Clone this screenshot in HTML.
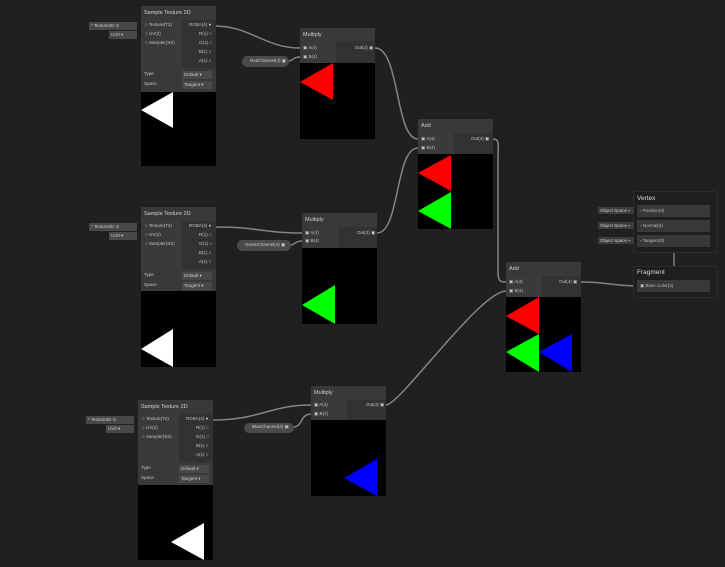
<!DOCTYPE html>
<html><head><meta charset="utf-8"><style>
*{margin:0;padding:0;box-sizing:border-box}
body{width:725px;height:567px;background:#202020;position:relative;overflow:hidden;font-family:"Liberation Sans",sans-serif;color:#c8c8c8;font-size:5px}
.a{position:absolute}
.hd{background:#393939;font-size:5.5px;padding:4px 0 0 3px;color:#d0d0d0}
.lc{background:#3a3a3a}
.rc{background:#323232}
.pv{background:#000}
.t{position:absolute;white-space:nowrap;font-size:4.5px;color:#c4c4c4}
.pill{position:absolute;background:#4a4a4a;border-radius:6px;font-size:4.5px;color:#ccc;padding:2px 0 0 8px;white-space:nowrap}
.dd{position:absolute;background:#484848;font-size:4.5px;color:#ccc;padding:1px 2px;white-space:nowrap}
.box{position:absolute;border:1px solid #2c2c2c;background:#1e1e1e;border-radius:2px}
.row{position:absolute;background:#383838}
</style></head><body>
<svg class="a" style="left:0;top:0" width="725" height="567">
<g fill="none" stroke="#8a7f8c" stroke-width="1.5">
<path d="M215 26 C250 26,265 48,300 48"/>
<path d="M215 227 C260 227,262 233,302 233"/>
<path d="M213 420 C260 420,270 405,311 405"/>
<path d="M288 61 C294 61,292 57,300 57"/>
<path d="M290 245 C296 245,294 241,302 241"/>
<path d="M293 427 C303 427,300 414,311 414"/>
<path d="M375 48 C400 48,395 139,418 139"/>
<path d="M377 233 C400 233,395 148,418 148"/>
<path d="M493 139 C500 139,498 145,498 160 L498 270 C498 282,500 282,506 282"/>
<path d="M386 405 C400 405,480 291,506 291"/>
<path d="M581 282 C610 282,610 286,640 286"/>
</g>
<path d="M674 253 L674 266" stroke="#aaa" stroke-width="1"/>
</svg>

<!-- Sample Texture 1 -->
<div class="a hd" style="left:141px;top:6px;width:75px;height:14px">Sample Texture 2D</div>
<div class="a lc" style="left:141px;top:20px;width:41px;height:48px"></div>
<div class="a rc" style="left:182px;top:20px;width:34px;height:48px"></div>
<div class="a hd" style="left:141px;top:68px;width:75px;height:24px;padding:0"></div>
<div class="t" style="left:144px;top:71px">Type</div><div class="dd" style="left:182px;top:71px;width:30px">Default ▾</div>
<div class="t" style="left:144px;top:81px">Space</div><div class="dd" style="left:182px;top:81px;width:30px">Tangent ▾</div>
<div class="a pv" style="left:141px;top:92px;width:75px;height:74px"></div>
<div class="t" style="left:145px;top:22px">○ Texture(T2)</div>
<div class="t" style="left:145px;top:31px">○ UV(2)</div>
<div class="t" style="left:145px;top:40px">○ Sampler(SS)</div>
<div class="t" style="left:189px;top:22px">RGBA(4) ●</div>
<div class="t" style="left:199px;top:31px">R(1) ○</div>
<div class="t" style="left:199px;top:40px">G(1) ○</div>
<div class="t" style="left:199px;top:49px">B(1) ○</div>
<div class="t" style="left:199px;top:58px">A(1) ○</div>
<div class="dd" style="left:89px;top:22px;width:48px">* Texture2D ⊙</div>
<div class="dd" style="left:109px;top:31px;width:28px">UV0 ▾</div>

<!-- Sample Texture 2 -->
<div class="a hd" style="left:141px;top:207px;width:75px;height:14px">Sample Texture 2D</div>
<div class="a lc" style="left:141px;top:221px;width:41px;height:48px"></div>
<div class="a rc" style="left:182px;top:221px;width:34px;height:48px"></div>
<div class="a hd" style="left:141px;top:269px;width:75px;height:22px;padding:0"></div>
<div class="t" style="left:144px;top:272px">Type</div><div class="dd" style="left:182px;top:272px;width:30px">Default ▾</div>
<div class="t" style="left:144px;top:282px">Space</div><div class="dd" style="left:182px;top:282px;width:30px">Tangent ▾</div>
<div class="a pv" style="left:141px;top:291px;width:75px;height:76px"></div>
<div class="t" style="left:145px;top:223px">○ Texture(T2)</div>
<div class="t" style="left:145px;top:232px">○ UV(2)</div>
<div class="t" style="left:145px;top:241px">○ Sampler(SS)</div>
<div class="t" style="left:189px;top:223px">RGBA(4) ●</div>
<div class="t" style="left:199px;top:232px">R(1) ○</div>
<div class="t" style="left:199px;top:241px">G(1) ○</div>
<div class="t" style="left:199px;top:250px">B(1) ○</div>
<div class="t" style="left:199px;top:259px">A(1) ○</div>
<div class="dd" style="left:89px;top:223px;width:48px">* Texture2D ⊙</div>
<div class="dd" style="left:109px;top:232px;width:28px">UV0 ▾</div>

<!-- Sample Texture 3 -->
<div class="a hd" style="left:138px;top:400px;width:75px;height:14px">Sample Texture 2D</div>
<div class="a lc" style="left:138px;top:414px;width:41px;height:48px"></div>
<div class="a rc" style="left:179px;top:414px;width:34px;height:48px"></div>
<div class="a hd" style="left:138px;top:462px;width:75px;height:23px;padding:0"></div>
<div class="t" style="left:141px;top:465px">Type</div><div class="dd" style="left:179px;top:465px;width:30px">Default ▾</div>
<div class="t" style="left:141px;top:475px">Space</div><div class="dd" style="left:179px;top:475px;width:30px">Tangent ▾</div>
<div class="a pv" style="left:138px;top:485px;width:75px;height:75px"></div>
<div class="t" style="left:142px;top:416px">○ Texture(T2)</div>
<div class="t" style="left:142px;top:425px">○ UV(2)</div>
<div class="t" style="left:142px;top:434px">○ Sampler(SS)</div>
<div class="t" style="left:186px;top:416px">RGBA(4) ●</div>
<div class="t" style="left:196px;top:425px">R(1) ○</div>
<div class="t" style="left:196px;top:434px">G(1) ○</div>
<div class="t" style="left:196px;top:443px">B(1) ○</div>
<div class="t" style="left:196px;top:452px">A(1) ○</div>
<div class="dd" style="left:86px;top:416px;width:48px">* Texture2D ⊙</div>
<div class="dd" style="left:106px;top:425px;width:28px">UV0 ▾</div>

<!-- Multiply 1 -->
<div class="a hd" style="left:300px;top:28px;width:75px;height:13px">Multiply</div>
<div class="a lc" style="left:300px;top:41px;width:36px;height:22px"></div>
<div class="a rc" style="left:336px;top:41px;width:39px;height:22px"></div>
<div class="t" style="left:303px;top:45px">▣ A(4)</div><div class="t" style="left:303px;top:54px">▣ B(4)</div>
<div class="t" style="left:355px;top:45px">Out(4) ▣</div>
<div class="a pv" style="left:300px;top:63px;width:75px;height:76px"></div>
<div class="pill" style="left:242px;top:56px;width:47px;height:11px">RedChannel(4) ▣</div>

<!-- Multiply 2 -->
<div class="a hd" style="left:302px;top:213px;width:75px;height:14px">Multiply</div>
<div class="a lc" style="left:302px;top:227px;width:36px;height:21px"></div>
<div class="a rc" style="left:338px;top:227px;width:39px;height:21px"></div>
<div class="t" style="left:305px;top:230px">▣ A(4)</div><div class="t" style="left:305px;top:238px">▣ B(4)</div>
<div class="t" style="left:357px;top:230px">Out(4) ▣</div>
<div class="a pv" style="left:302px;top:248px;width:75px;height:76px"></div>
<div class="pill" style="left:237px;top:240px;width:54px;height:11px">GreenChannel(4) ▣</div>

<!-- Multiply 3 -->
<div class="a hd" style="left:311px;top:386px;width:75px;height:14px">Multiply</div>
<div class="a lc" style="left:311px;top:400px;width:36px;height:20px"></div>
<div class="a rc" style="left:347px;top:400px;width:39px;height:20px"></div>
<div class="t" style="left:314px;top:402px">▣ A(4)</div><div class="t" style="left:314px;top:411px">▣ B(4)</div>
<div class="t" style="left:366px;top:402px">Out(4) ▣</div>
<div class="a pv" style="left:311px;top:420px;width:75px;height:76px"></div>
<div class="pill" style="left:244px;top:423px;width:50px;height:10px;padding-top:1px">BlueChannel(4) ▣</div>

<!-- Add 1 -->
<div class="a hd" style="left:418px;top:119px;width:75px;height:14px">Add</div>
<div class="a lc" style="left:418px;top:133px;width:36px;height:21px"></div>
<div class="a rc" style="left:454px;top:133px;width:39px;height:21px"></div>
<div class="t" style="left:421px;top:136px">▣ A(4)</div><div class="t" style="left:421px;top:145px">▣ B(4)</div>
<div class="t" style="left:471px;top:136px">Out(4) ▣</div>
<div class="a pv" style="left:418px;top:154px;width:75px;height:75px"></div>

<!-- Add 2 -->
<div class="a hd" style="left:506px;top:262px;width:75px;height:14px">Add</div>
<div class="a lc" style="left:506px;top:276px;width:36px;height:21px"></div>
<div class="a rc" style="left:542px;top:276px;width:39px;height:21px"></div>
<div class="t" style="left:509px;top:279px">▣ A(4)</div><div class="t" style="left:509px;top:288px">▣ B(4)</div>
<div class="t" style="left:559px;top:279px">Out(4) ▣</div>
<div class="a pv" style="left:506px;top:297px;width:75px;height:75px"></div>

<!-- Vertex / Fragment -->
<div class="box" style="left:633px;top:191px;width:84px;height:62px"></div>
<div class="a" style="left:637px;top:195px;font-size:6.5px;color:#d8d8d8">Vertex</div>
<div class="row" style="left:637px;top:205px;width:73px;height:12px"></div>
<div class="row" style="left:637px;top:220px;width:73px;height:12px"></div>
<div class="row" style="left:637px;top:235px;width:73px;height:12px"></div>
<div class="t" style="left:640px;top:208px;color:#bbb">▫ Position(3)</div>
<div class="t" style="left:640px;top:223px;color:#bbb">▫ Normal(3)</div>
<div class="t" style="left:640px;top:238px;color:#bbb">▫ Tangent(3)</div>
<div class="dd" style="left:598px;top:207px;width:36px;background:#3c3c3c">Object Space ▪</div>
<div class="dd" style="left:598px;top:222px;width:36px;background:#3c3c3c">Object Space ▪</div>
<div class="dd" style="left:598px;top:237px;width:36px;background:#3c3c3c">Object Space ▪</div>
<div class="box" style="left:633px;top:266px;width:84px;height:32px"></div>
<div class="a" style="left:637px;top:269px;font-size:6.5px;color:#d8d8d8">Fragment</div>
<div class="row" style="left:637px;top:280px;width:73px;height:12px"></div>
<div class="t" style="left:640px;top:283px;color:#bbb">▣ Base Color(3)</div>

<svg class="a" style="left:0;top:0" width="725" height="567">
<g fill="#fff"><polygon points="141,110 173,92 173,128"/><polygon points="141,349 173,329 173,367"/><polygon points="171,542 204,523 204,560"/></g>
<g fill="#ff0000"><polygon points="300,82 333,63 333,100"/><polygon points="418,173 451,155 451,191"/><polygon points="506,316 539,297 539,334"/></g>
<g fill="#00ff00"><polygon points="302,305 335,285 335,324"/><polygon points="418,211 451,192 451,229"/><polygon points="506,352 539,334 539,372"/></g>
<g fill="#0000ff"><polygon points="344,478 377,459 377,496"/><polygon points="539,352 572,334 572,372"/></g>
</svg>
</body></html>
